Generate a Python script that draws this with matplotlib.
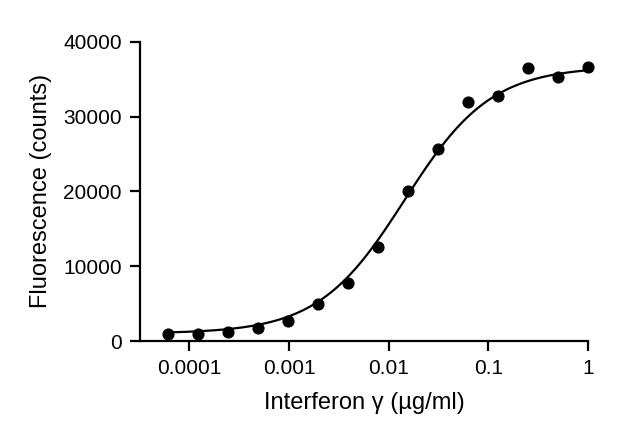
import numpy as np
import matplotlib
matplotlib.use("Agg")
import matplotlib.pyplot as plt

plt.rcParams["font.family"] = "Liberation Sans"

conc = [1/2**k for k in range(14, -1, -1)]
fluor = [900, 1000, 1200, 1800, 2700, 5000, 7800, 12600, 20100, 25700, 32000, 32800, 36500, 35300, 36600]
# 4-parameter logistic fit parameters
fit_bottom, fit_top, fit_ec50, fit_hill = 1000, 36700, 0.0145, 1.0
xticks = [0.0001, 0.001, 0.01, 0.1, 1]
xtick_labels = ["0.0001", "0.001", "0.01", "0.1", "1"]
yticks = [0, 10000, 20000, 30000, 40000]

fig = plt.figure(figsize=(6.28, 4.42), dpi=100)
ax = fig.add_axes([0.223, 0.2285, 0.713, 0.677])
xs = np.logspace(np.log10(conc[0]), 0, 300)
ys = fit_bottom + (fit_top - fit_bottom) / (1 + (fit_ec50 / xs) ** fit_hill)
ax.plot(xs, ys, color="black", lw=1.6, clip_on=False)
ax.scatter(conc, fluor, s=60, color="black", zorder=3, clip_on=False)
ax.set_xscale("log")
ax.set_xlim(3.2e-5, 1)
ax.set_ylim(0, 40000)
ax.set_xticks(xticks)
ax.set_xticklabels(xtick_labels)
ax.minorticks_off()
ax.set_yticks(yticks)
ax.spines["top"].set_visible(False)
ax.spines["right"].set_visible(False)
for s in ["left", "bottom"]:
    ax.spines[s].set_linewidth(1.6)
ax.tick_params(width=1.6, length=7, labelsize=15, pad=6)
ax.set_xlabel("Interferon γ (µg/ml)", fontsize=17, labelpad=10)
ax.set_ylabel("Fluorescence (counts)", fontsize=17, labelpad=8)
fig.savefig("out.png", dpi=100)
